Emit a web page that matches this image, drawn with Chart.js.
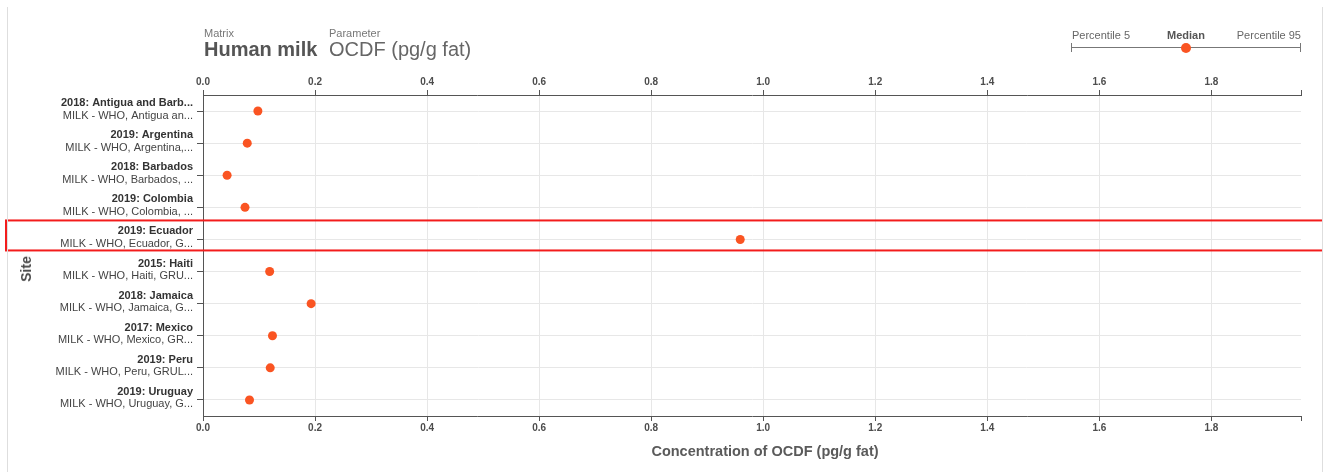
<!DOCTYPE html>
<html>
<head>
<meta charset="utf-8">
<title>OCDF in human milk by site</title>
<script src="https://cdn.jsdelivr.net/npm/chart.js@4.4.1/dist/chart.umd.min.js"></script>
<style>
  html, body { margin: 0; padding: 0; background: #fff; }
  #wrap { position: relative; width: 1323px; height: 472px; overflow: hidden;
          font-family: "Liberation Sans", Arial, sans-serif; }
  #chart { position: absolute; left: 0; top: 0; }
  .frame { position: absolute; top: 7px; bottom: 0; width: 1px; background: #dedede; }
  .t { position: absolute; white-space: nowrap; line-height: 1; }
  .small { font-size: 11px; color: #777; }
  .big { font-size: 20px; }
  .legend-text { font-size: 11px; color: #666; }
  .axis-title { position: absolute; white-space: nowrap; line-height: 1; font-weight: bold; }
  .rule { position: absolute; background: #777; }
  .dot { position: absolute; width: 10px; height: 10px; border-radius: 50%; background: #fa5422; }
</style>
</head>
<body>
<div id="wrap">
  <canvas id="chart" width="1323" height="472"></canvas>

  <div class="frame" style="left:7px"></div>
  <div class="frame" style="left:1322px"></div>

  <!-- header: matrix and parameter -->
  <div class="t small" style="left:204px;top:28px">Matrix</div>
  <div class="t big" style="left:204px;top:39px;font-weight:bold;color:#555">Human milk</div>
  <div class="t small" style="left:329px;top:28px">Parameter</div>
  <div class="t big" style="left:329px;top:39px;color:#666">OCDF (pg/g fat)</div>

  <!-- legend: percentile range with median marker -->
  <div class="t legend-text" style="left:1072px;top:30px">Percentile 5</div>
  <div class="t legend-text" style="left:1136px;top:30px;width:100px;text-align:center;font-weight:bold;color:#555">Median</div>
  <div class="t legend-text" style="right:22px;top:30px">Percentile 95</div>
  <div class="rule" style="left:1071px;top:47px;width:230px;height:1px"></div>
  <div class="rule" style="left:1071px;top:43px;width:1px;height:9px"></div>
  <div class="rule" style="left:1300px;top:43px;width:1px;height:9px"></div>
  <div class="dot" style="left:1181px;top:42.5px"></div>

  <!-- axis titles -->
  <div class="axis-title" style="left:565px;top:444px;width:400px;text-align:center;font-size:14.5px;color:#5a5a5a">Concentration of OCDF (pg/g fat)</div>
  <div class="axis-title" style="left:26px;top:269px;font-size:14px;color:#4a4a4a;transform:translate(-50%,-50%) rotate(-90deg)">Site</div>
</div>

<script>
// Sites (first label line) and sample descriptions (second label line)
const siteTitles = [
  '2018: Antigua and Barb...',
  '2019: Argentina',
  '2018: Barbados',
  '2019: Colombia',
  '2019: Ecuador',
  '2015: Haiti',
  '2018: Jamaica',
  '2017: Mexico',
  '2019: Peru',
  '2019: Uruguay'
];
const siteDetails = [
  'MILK - WHO, Antigua an...',
  'MILK - WHO, Argentina,...',
  'MILK - WHO, Barbados, ...',
  'MILK - WHO, Colombia, ...',
  'MILK - WHO, Ecuador, G...',
  'MILK - WHO, Haiti, GRU...',
  'MILK - WHO, Jamaica, G...',
  'MILK - WHO, Mexico, GR...',
  'MILK - WHO, Peru, GRUL...',
  'MILK - WHO, Uruguay, G...'
];
// Median OCDF concentration per site (pg/g fat)
const medianValues = [0.098, 0.079, 0.043, 0.075, 0.959, 0.119, 0.193, 0.124, 0.120, 0.083];
// Concentration axis
const xTickValues = [0, 0.2, 0.4, 0.6, 0.8, 1.0, 1.2, 1.4, 1.6, 1.8];
const xMax = 1.96;
const highlightedSite = '2019: Ecuador';

const FONT = "'Liberation Sans', Arial, sans-serif";
const AXIS = '#555';
const GRID = '#e7e7e7';
const MARK = '#fa5422';

// ticks at the round values plus an unlabeled end tick at the domain edge
function setConcTicks(scale) {
  scale.ticks = xTickValues.map(v => ({ value: v })).concat([{ value: xMax }]);
}
function concLabel(value, index) {
  return index < xTickValues.length ? value.toFixed(1) : '';
}
const tickFont = { family: FONT, size: 10, weight: 'bold' };

// The detail-label axis takes no layout width; widen its box afterwards
// so its labels share the space of the site-title axis.
const sharedLabelColumn = {
  id: 'sharedLabelColumn',
  afterLayout(chart) {
    const d = chart.scales.yDetail;
    d.left = 0;
    d.width = d.right - d.left;
  }
};

// outline around the selected site row
const rowHighlight = {
  id: 'rowHighlight',
  afterDraw(chart) {
    const y = chart.scales.y;
    const cy = y.getPixelForValue(siteTitles.indexOf(highlightedSite));
    const ctx = chart.ctx;
    ctx.save();
    ctx.strokeStyle = '#f31c1c';
    ctx.lineWidth = 2;
    ctx.strokeRect(6, cy - 19, chart.width + 10, 30);
    ctx.restore();
  }
};

new Chart(document.getElementById('chart'), {
  type: 'scatter',
  data: {
    labels: siteTitles,
    datasets: [{
      label: 'Median',
      data: siteTitles.map((s, i) => ({ x: medianValues[i], y: s })),
      backgroundColor: MARK,
      borderColor: MARK,
      borderWidth: 0,
      pointRadius: 4.5,
      pointHoverRadius: 4.5
    }]
  },
  options: {
    responsive: false,
    animation: false,
    events: [],
    layout: { padding: { left: 0, right: 22, top: 0, bottom: 0 } },
    plugins: { legend: { display: false }, tooltip: { enabled: false } },
    scales: {
      x: {
        type: 'linear', position: 'bottom', min: 0, max: xMax,
        afterBuildTicks: setConcTicks,
        afterFit: s => { s.height = 56; },
        grid: {
          color: c => (c.tick && c.tick.value >= xMax) ? 'rgba(0,0,0,0)' : GRID,
          tickColor: AXIS, tickLength: 5
        },
        border: { color: AXIS, width: 1 },
        ticks: { callback: concLabel, autoSkip: false, maxRotation: 0, padding: 1, color: '#4d4d4d', font: tickFont }
      },
      xTop: {
        type: 'linear', position: 'top', min: 0, max: xMax,
        afterBuildTicks: setConcTicks,
        afterFit: s => { s.height = 95; },
        grid: { drawOnChartArea: false, tickColor: AXIS, tickLength: 5 },
        border: { color: AXIS, width: 1 },
        ticks: { callback: concLabel, autoSkip: false, maxRotation: 0, padding: 2, color: '#4d4d4d', font: tickFont }
      },
      y: {
        type: 'category', labels: siteTitles, position: 'left', offset: true, weight: 1,
        afterFit: s => { s.width = 203; },
        grid: { color: GRID, offset: false, tickColor: AXIS, tickLength: 6 },
        border: { color: AXIS, width: 1 },
        ticks: { autoSkip: false, padding: 4, labelOffset: -8, color: '#333',
                 font: { family: FONT, size: 11, weight: 'bold' } }
      },
      yDetail: {
        type: 'category', labels: siteTitles, position: 'left', offset: true, weight: 0,
        afterFit: s => { s.width = 0; },
        grid: { display: false, drawTicks: false },
        border: { display: false },
        ticks: { autoSkip: false, padding: 10, labelOffset: 4.5, color: '#444',
                 font: { family: FONT, size: 11 }, callback: (v, i) => siteDetails[i] }
      }
    }
  },
  plugins: [sharedLabelColumn, rowHighlight]
});
</script>
</body>
</html>
